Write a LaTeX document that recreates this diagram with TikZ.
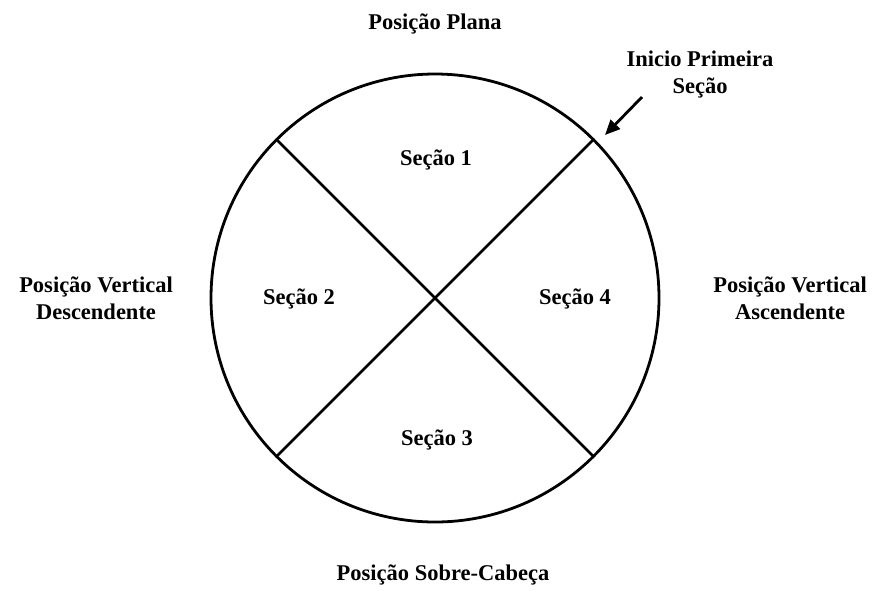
\documentclass[tikz,border=0pt]{standalone}
\usepackage{fontspec}
\setmainfont{Liberation Serif}
\usetikzlibrary{arrows.meta}
\begin{document}
\begin{tikzpicture}[x=1pt,y=-1pt,
  lbl/.style={font=\fontsize{22.5}{27}\selectfont\bfseries, align=center, inner sep=0pt},
  thick line/.style={line width=2.8pt}]
\useasboundingbox (0,0) rectangle (874,590);
\coordinate (c) at (435,298);
\draw[thick line] (c) circle[radius=224];
\path (c) ++(158.4,-158.4) coordinate (ne);
\path (c) ++(-158.4,-158.4) coordinate (nw);
\path (c) ++(158.4,158.4) coordinate (se);
\path (c) ++(-158.4,158.4) coordinate (sw);
\draw[thick line] (nw) -- (se);
\draw[thick line] (ne) -- (sw);
\node[lbl] (s1) at (436,160) {Seção 1};
\node[lbl] (s2) at (299,299) {Seção 2};
\node[lbl] (s4) at (575,299) {Seção 4};
\node[lbl] (s3) at (437,440) {Seção 3};
\node[lbl] (top) at (435,24) {Posição Plana};
\node[lbl] (bot) at (443,575) {Posição Sobre-Cabeça};
\node[lbl] (left) at (96,298) {Posição Vertical\\Descendente};
\node[lbl] (right) at (790,298) {Posição Vertical\\Ascendente};
\node[lbl] (ini) at (700,75) {Inicio Primeira\\Seção};
\coordinate (a0) at (642,97);
\coordinate (a1) at (605,135);
\draw[thick line, -{Triangle[length=15pt,width=13pt]}] (a0) -- (a1);
\end{tikzpicture}
\end{document}
